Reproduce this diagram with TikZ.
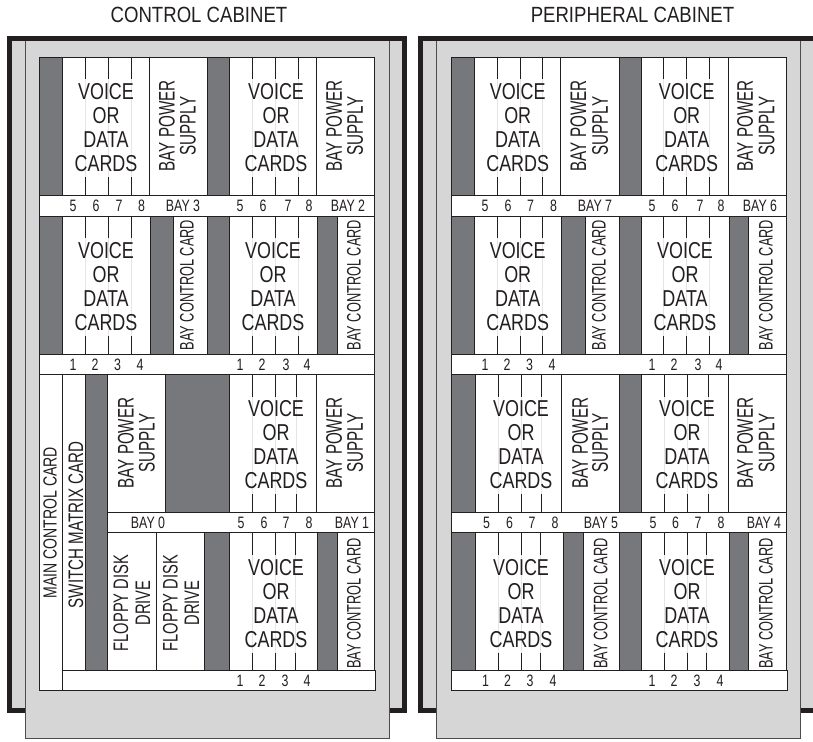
\documentclass[tikz,border=0pt]{standalone}
\usepackage{fontspec}
\setmainfont{Liberation Sans}
\newfontfamily\fcard[FakeStretch=0.78]{Liberation Sans}
\newfontfamily\ftitle[FakeStretch=0.845]{Liberation Sans}
\newfontfamily\frot[FakeStretch=0.676]{Liberation Sans}
\newfontfamily\fbcc[FakeStretch=0.655]{Liberation Sans}
\newfontfamily\fmain[FakeStretch=0.74]{Liberation Sans}
\newfontfamily\fswitch[FakeStretch=0.72]{Liberation Sans}
\newfontfamily\ffloppy[FakeStretch=0.70]{Liberation Sans}
\newfontfamily\flab[FakeStretch=0.75]{Liberation Sans}
\definecolor{ink}{HTML}{231F20}
\definecolor{slot}{HTML}{77787B}
\definecolor{panel}{HTML}{D6D6D6}
\tikzset{
  wbox/.style={draw=ink,line width=0.9pt,fill=white},
  gbox/.style={draw=ink,line width=0.9pt,fill=slot},
  tick/.style={draw=ink,line width=0.9pt},
  ghost/.style={draw=black!10,line width=0.8pt},
  frame/.style={fill=ink},
  back/.style={fill=panel},
  front/.style={draw=black!70,line width=0.9pt,fill=panel},
  titletext/.style={inner sep=0pt,text=ink,font=\ftitle\fontsize{22}{24}\selectfont},
  cardtext/.style={inner sep=0pt,text=ink,align=center,font=\fcard\fontsize{23}{24}\selectfont},
  rottext/.style={inner sep=0pt,text=ink,rotate=90,font=\frot\fontsize{22.5}{24}\selectfont},
  bcctext/.style={inner sep=0pt,text=ink,rotate=90,font=\fbcc\fontsize{19.5}{22}\selectfont},
  maintext/.style={inner sep=0pt,text=ink,rotate=90,font=\fmain\fontsize{19}{22}\selectfont},
  switchtext/.style={inner sep=0pt,text=ink,rotate=90,font=\fswitch\fontsize{21}{24}\selectfont},
  floppytext/.style={inner sep=0pt,text=ink,rotate=90,font=\ffloppy\fontsize{21}{24}\selectfont},
  numtext/.style={inner sep=0pt,text=ink,font=\flab\fontsize{16.5}{18}\selectfont},
}
% #1 x1 #2 x2 #3,#4,#5 tick x's #6 ytop #7 ybottom
\newcommand{\cardblock}[7]{%
  \draw[wbox] (#1,#6) rectangle (#2,#7);
  \foreach \tx in {#3,#4,#5}{
    \draw[ghost] (\tx,#6) -- (\tx,#7);
    \draw[tick] (\tx,#6) -- (\tx,#6+22);
    \draw[tick] (\tx,#7-18) -- (\tx,#7);
  }}
\newcommand{\gslot}[4]{\draw[gbox] (#1,#3) rectangle (#2,#4);}
\newcommand{\wslot}[4]{\draw[wbox] (#1,#3) rectangle (#2,#4);}
\newcommand{\vod}[3]{\node[cardtext] (#1) at (#2,#3+0.5) {VOICE\\OR\\DATA\\CARDS};}
\newcommand{\bps}[4]{%
  \node[rottext] (#1a) at (#2,#4) {BAY POWER};
  \node[rottext] (#1b) at (#3,#4) {SUPPLY};}
\newcommand{\bcc}[3]{\node[bcctext] (#1) at (#2,#3) {BAY CONTROL CARD};}
\newcommand{\numrow}[6]{% y, x1..x4, first digit
  \pgfmathtruncatemacro{\da}{#6}\pgfmathtruncatemacro{\db}{#6+1}\pgfmathtruncatemacro{\dc}{#6+2}\pgfmathtruncatemacro{\dd}{#6+3}%
  \node[numtext] at (#2,#1) {\da};
  \node[numtext] at (#3,#1) {\db};
  \node[numtext] at (#4,#1) {\dc};
  \node[numtext] at (#5,#1) {\dd};}
\begin{document}
\begin{tikzpicture}[x=1pt,y=-1pt]
\useasboundingbox (0,0) rectangle (813,741);
\fill[white] (0,0) rectangle (813,741);
\node[titletext] (t1) at (199,15) {CONTROL CABINET};
\node[titletext] (t2) at (632.5,15) {PERIPHERAL CABINET};

% ---------- control cabinet shell
\fill[frame] (7,36) rectangle (407,713);
\fill[back] (12,41) rectangle (402,708);
\draw[front] (25,41) -- (25,738) -- (389,738) -- (389,41);
\fill[back] (25.5,41) rectangle (388.5,737.5);
\draw[gbox,fill=white] (39.5,57) rectangle (374.5,690);

% row A
\gslot{39.5}{62.5}{57}{195}
\cardblock{62.5}{149}{85}{108}{131}{57}{195}
\wslot{149}{207.5}{57}{195}
\gslot{207.5}{229.5}{57}{195}
\cardblock{229.5}{316}{252}{275}{298}{57}{195}
\wslot{316}{374.5}{57}{195}
% band
\wslot{39.5}{374.5}{195}{216}
% row B
\gslot{39.5}{62.5}{216}{354}
\cardblock{62.5}{150}{85}{108}{131}{216}{354}
\gslot{150}{173}{216}{354}
\wslot{173}{207.5}{216}{354}
\gslot{207.5}{229.5}{216}{354}
\cardblock{229.5}{317}{252}{275}{298}{216}{354}
\gslot{317}{337}{216}{354}
\wslot{337}{374.5}{216}{354}
\wslot{39.5}{374.5}{354}{374.5}
% row C / D
\wslot{39.5}{62.5}{374.5}{690}
\wslot{62.5}{85.5}{374.5}{670.7}
\gslot{85.5}{107.5}{374.5}{670.7}
\wslot{107.5}{165.5}{374.5}{512.3}
\gslot{165.5}{229.5}{374.5}{512.3}
\cardblock{229.5}{316}{252}{275}{296}{374.5}{512.3}
\wslot{316}{374.5}{374.5}{512.3}
\wslot{107.5}{374.5}{512.3}{532.7}
\wslot{107.5}{156}{532.7}{670.7}
\wslot{156}{204}{532.7}{670.7}
\gslot{204}{229.5}{532.7}{670.7}
\cardblock{229.5}{317}{252}{275}{295}{532.7}{670.7}
\gslot{317}{337}{532.7}{670.7}
\wslot{337}{374.5}{532.7}{670.7}
\wslot{62.5}{375.5}{670.7}{690}

\vod{v1}{106}{127}\vod{v2}{276}{127}
\vod{v3}{106}{286}\vod{v4}{273}{286}
\vod{v5}{276}{444}\vod{v6}{276}{603}
\bps{p1}{167}{188}{126}\bps{p2}{334}{355}{126}
\bps{p3}{126}{147}{443}\bps{p4}{334}{355}{443}
\bcc{c1}{187}{285}\bcc{c2}{354}{285}\bcc{c3}{354}{603.5}
\node[maintext] (mcc) at (50,522.7) {MAIN CONTROL CARD};
\node[switchtext] (smc) at (76,524.7) {SWITCH MATRIX CARD};
\node[floppytext] (f1a) at (121,603) {FLOPPY DISK};
\node[floppytext] (f1b) at (143,603) {DRIVE};
\node[floppytext] (f2a) at (170.5,603) {FLOPPY DISK};
\node[floppytext] (f2b) at (192,603) {DRIVE};

\numrow{206}{73}{96}{119}{141.5}{5}
\numrow{206}{240}{263}{288}{309}{5}
\numrow{365}{73}{95}{117.5}{140}{1}
\numrow{365}{240}{262}{286}{307}{1}
\numrow{523}{241}{264}{286}{309}{5}
\numrow{681}{240}{262}{285}{307}{1}
\node[numtext] (b3) at (183,206) {BAY 3};
\node[numtext] (b2) at (348,206) {BAY 2};
\node[numtext] (b0) at (148,523) {BAY 0};
\node[numtext] (b1) at (352,523) {BAY 1};

% ---------- peripheral cabinet shell
\fill[frame] (418.3,36) rectangle (813,713);
\fill[back] (423.3,41) rectangle (813,708);
\draw[front] (436.5,41) -- (436.5,738) -- (800.7,738) -- (800.7,41);
\fill[back] (437,41) rectangle (800.2,737.5);
\draw[gbox,fill=white] (451,57) rectangle (786,690);

% row A
\gslot{451}{474.7}{57}{195}
\cardblock{474.7}{560.7}{497.3}{520}{542.7}{57}{195}
\wslot{560.7}{619}{57}{195}
\gslot{619}{641.5}{57}{195}
\cardblock{641.5}{728}{663.7}{686.7}{709.7}{57}{195}
\wslot{728}{786}{57}{195}
\wslot{451}{786}{195}{216}
% row B
\gslot{451}{474.7}{216}{354}
\cardblock{474.7}{561.5}{497.3}{520}{542.7}{216}{354}
\gslot{561.5}{585}{216}{354}
\wslot{585}{619}{216}{354}
\gslot{619}{641.5}{216}{354}
\cardblock{641.5}{729}{663.7}{686.7}{709.7}{216}{354}
\gslot{729}{748.5}{216}{354}
\wslot{748.5}{786}{216}{354}
\wslot{451}{786}{354}{374.5}
% row C
\gslot{451}{475.5}{374.5}{512.3}
\cardblock{475.5}{561.5}{498}{521}{541.5}{374.5}{512.3}
\wslot{561.5}{619}{374.5}{512.3}
\gslot{619}{641.5}{374.5}{512.3}
\cardblock{641.5}{728}{664}{687}{708}{374.5}{512.3}
\wslot{728}{786}{374.5}{512.3}
\wslot{451}{786}{512.3}{532.7}
% row D
\gslot{451}{475.5}{532.7}{670.7}
\cardblock{475.5}{563}{498}{521}{540.5}{532.7}{670.7}
\gslot{563}{583}{532.7}{670.7}
\wslot{583}{619}{532.7}{670.7}
\gslot{619}{641.5}{532.7}{670.7}
\cardblock{641.5}{729}{664}{687}{706.7}{532.7}{670.7}
\gslot{729}{748.5}{532.7}{670.7}
\wslot{748.5}{786}{532.7}{670.7}
\wslot{451}{787.5}{670.7}{690}

\vod{v7}{517.7}{127}\vod{v8}{686.7}{127}
\vod{v9}{517.7}{286}\vod{v10}{685}{286}
\vod{v11}{521}{444}\vod{v12}{687}{444}
\vod{v13}{521}{603}\vod{v14}{687}{603}
\bps{p5}{578.3}{600}{126}\bps{p6}{745}{766.7}{126}
\bps{p7}{580}{600}{443}\bps{p8}{745}{766.7}{443}
\bcc{c4}{599}{285}\bcc{c5}{766}{285}
\bcc{c6}{600.7}{603.5}\bcc{c7}{766}{603.5}

\numrow{206}{485}{508}{530.5}{553.5}{5}
\numrow{206}{652}{675}{700}{721}{5}
\numrow{365}{485}{507}{529.5}{552}{1}
\numrow{365}{652}{674}{698}{719}{1}
\numrow{523}{486.5}{509.5}{532}{555}{5}
\numrow{523}{653}{675.5}{698}{721}{5}
\numrow{681}{485.5}{507.5}{530}{553}{1}
\numrow{681}{652}{674}{697}{720}{1}
\node[numtext] (b7) at (595,206) {BAY 7};
\node[numtext] (b6) at (760,206) {BAY 6};
\node[numtext] (b5) at (601,523) {BAY 5};
\node[numtext] (b4) at (764,523) {BAY 4};
\end{tikzpicture}
\end{document}
